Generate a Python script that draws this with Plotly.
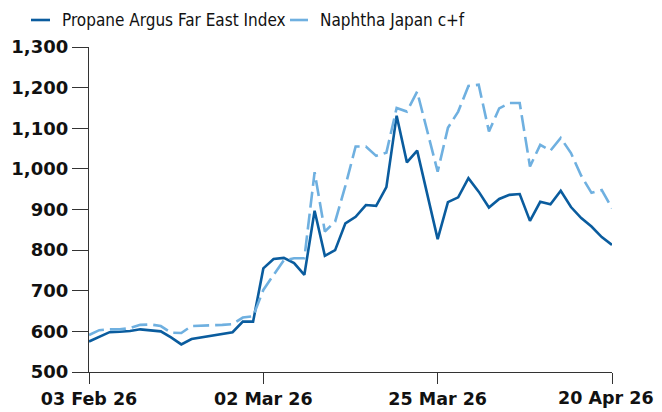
import plotly.graph_objects as go

dates = [
    "03 Feb 26", "04 Feb 26", "05 Feb 26", "06 Feb 26", "09 Feb 26", "10 Feb 26", "11 Feb 26",
    "12 Feb 26", "13 Feb 26", "18 Feb 26", "19 Feb 26", "20 Feb 26", "23 Feb 26", "24 Feb 26",
    "25 Feb 26", "26 Feb 26", "27 Feb 26", "02 Mar 26", "03 Mar 26", "04 Mar 26", "05 Mar 26",
    "06 Mar 26", "09 Mar 26", "10 Mar 26", "11 Mar 26", "12 Mar 26", "13 Mar 26", "16 Mar 26",
    "17 Mar 26", "18 Mar 26", "19 Mar 26", "20 Mar 26", "23 Mar 26", "24 Mar 26", "25 Mar 26",
    "26 Mar 26", "27 Mar 26", "30 Mar 26", "31 Mar 26", "01 Apr 26", "02 Apr 26", "06 Apr 26",
    "07 Apr 26", "08 Apr 26", "09 Apr 26", "10 Apr 26", "13 Apr 26", "14 Apr 26", "15 Apr 26",
    "16 Apr 26", "17 Apr 26", "20 Apr 26",
]

propane = [
    575, 586, 598, 599, 601, 605, 602, 600, 585, 568, 581, 585, 589, 594, 598, 624, 624,
    755, 778, 781, 768, 739, 897, 786, 800, 866, 882, 911, 909, 955, 1131, 1016, 1045,
    936, 827, 918, 930, 977, 944, 905, 926, 936, 938, 872, 919, 913, 946, 906, 879,
    858, 832, 813,
]

naphtha = [
    591, 603, 605, 605, 608, 616, 617, 613, 597, 596, 613, 614, 614, 616, 618, 634, 637,
    702, 739, 775, 780, 780, 992, 846, 870, 958, 1055, 1055, 1032, 1040, 1150, 1141, 1190,
    1090, 993, 1101, 1141, 1204, 1207, 1092, 1149, 1162, 1162, 1006, 1059, 1045, 1076, 1039, 983,
    941, 948, 903,
]

series_names = ["Propane Argus Far East Index", "Naphtha Japan c+f"]
tick_labels = ["03 Feb 26", "02 Mar 26", "25 Mar 26", "20 Apr 26"]
y_ticks = [500, 600, 700, 800, 900, 1000, 1100, 1200, 1300]

DARK = "#0a5c9e"
LIGHT = "#6fb0e0"
FONT = "DejaVu Sans"

W, H = 654, 404
ML, MR, MT, MB = 81, 50, 39, 40
PW, PH = W - ML - MR, H - MT - MB


def px(x):
    return (x - ML) / PW


def py(y):
    return (H - MB - y) / PH


# last tick label is drawn as an annotation, right-aligned so it stays inside the page
tick_text = tick_labels[:-1] + [""]
TICKFONT = dict(family=FONT, size=17.5, color="#111111", weight="bold")

fig = go.Figure()
fig.add_trace(go.Scatter(
    x=dates, y=propane, mode="lines", name=series_names[0],
    line=dict(color=DARK, width=2.6), showlegend=False,
))
fig.add_trace(go.Scatter(
    x=dates, y=naphtha, mode="lines", name=series_names[1],
    line=dict(color=LIGHT, width=2.6, dash="16px,6px"), showlegend=False,
))

fig.add_annotation(xref="x", yref="paper", x=tick_labels[-1], y=py(390),
                   xanchor="right", yanchor="middle", xshift=44, showarrow=False,
                   text=tick_labels[-1], font=TICKFONT)

# manual legend (symbol lines + labels)
legend_items = [
    (23, 42, 52, DARK, series_names[0]),
    (282, 300, 310, LIGHT, series_names[1]),
]
for x0, x1, xt, col, name in legend_items:
    fig.add_shape(type="line", xref="paper", yref="paper",
                  x0=px(x0), x1=px(x1), y0=py(12), y1=py(12),
                  line=dict(color=col, width=2.6))
    fig.add_annotation(xref="paper", yref="paper", x=px(xt), y=py(12),
                       xanchor="left", yanchor="middle", showarrow=False,
                       text=name,
                       font=dict(family="DejaVu Sans Condensed", size=17, color="#111111"))

fig.update_layout(
    width=W, height=H,
    margin=dict(l=ML, r=MR, t=MT, b=MB, autoexpand=False),
    paper_bgcolor="white", plot_bgcolor="white",
    font=dict(family=FONT, color="#111111"),
    showlegend=False,
    xaxis=dict(
        type="category", range=[0, len(dates) - 1], automargin=False,
        tickmode="array", tickvals=tick_labels, ticktext=tick_text,
        ticks="outside", ticklen=11, tickwidth=1.3, tickcolor="#333333",
        showline=True, linecolor="#333333", linewidth=1.3,
        showgrid=False, zeroline=False,
        tickfont=TICKFONT,
    ),
    yaxis=dict(
        range=[500, 1300], tickmode="array", tickvals=y_ticks, automargin=False,
        tickformat=",d",
        ticks="outside", ticklen=16, tickwidth=1.3, tickcolor="#333333",
        showline=True, linecolor="#333333", linewidth=1.3,
        showgrid=False, zeroline=False,
        tickfont=dict(family=FONT, size=18, color="#111111", weight="bold"),
    ),
)

fig.write_html("out.html")
